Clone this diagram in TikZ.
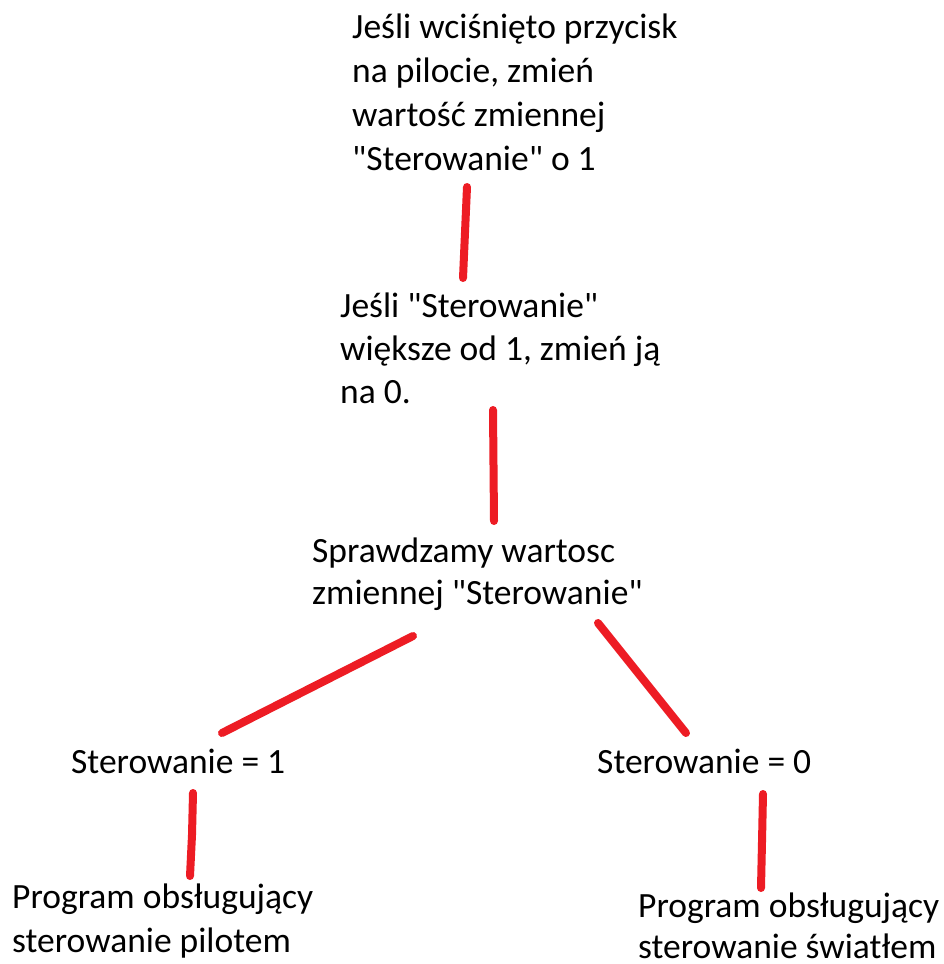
\documentclass[tikz,border=0pt]{standalone}
\usepackage{fontspec}
\setmainfont{Carlito}
\newcommand{\dq}{\textquotedbl}
\begin{document}
\begin{tikzpicture}[x=1pt,y=-1pt,
  txt/.style={anchor=base west,inner sep=0pt,align=left,font=\fontsize{35.5}{44}\selectfont},
  link/.style={draw={rgb,255:red,237;green,28;blue,36},line width=8pt,line cap=round}]
\useasboundingbox[fill=white] (0,0) rectangle (944,964);
\node[txt] (n1) at (352,170) {Jeśli wciśnięto przycisk\\na pilocie, zmień\\wartość zmiennej\\\dq Sterowanie\dq{} o 1};
\node[txt,font=\fontsize{35.5}{43}\selectfont] (n2) at (340,403) {Jeśli \dq Sterowanie\dq\\większe od 1, zmień ją\\na 0.};
\node[txt,font=\fontsize{35.5}{42}\selectfont] (n3) at (312,604) {Sprawdzamy wartosc\\zmiennej \dq Sterowanie\dq};
\node[txt] (n4) at (71,773) {Sterowanie = 1};
\node[txt] (n5) at (597,773) {Sterowanie = 0};
\node[txt] (n6) at (12,952) {Program obsługujący\\sterowanie pilotem};
\node[txt,font=\fontsize{35.5}{41}\selectfont] (n7) at (638,958) {Program obsługujący\\sterowanie światłem};
\coordinate (a1) at (467,187); \coordinate (b1) at (463,278);
\coordinate (a2) at (493,410); \coordinate (b2) at (494,521);
\coordinate (a3) at (413,636); \coordinate (b3) at (222,733);
\coordinate (a4) at (598,623); \coordinate (b4) at (686,733);
\coordinate (a5) at (193,793); \coordinate (m5) at (192,835); \coordinate (b5) at (190,876);
\coordinate (a6) at (763,794); \coordinate (m6) at (762,842); \coordinate (b6) at (761,888);
\draw[link] (a1) -- (b1);
\draw[link] (a2) -- (b2);
\draw[link] (a3) -- (b3);
\draw[link] (a4) -- (b4);
\draw[link] (a5) -- (m5) -- (b5);
\draw[link] (a6) -- (m6) -- (b6);
\end{tikzpicture}
\end{document}
